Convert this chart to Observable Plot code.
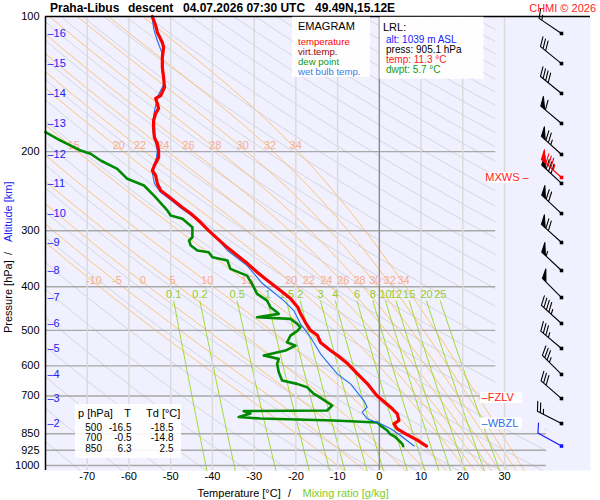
<!DOCTYPE html>
<html><head><meta charset="utf-8">
<script src="https://cdn.jsdelivr.net/npm/d3@7"></script>
<script src="https://cdn.jsdelivr.net/npm/@observablehq/plot@0.6"></script>
<style>body{margin:0;background:#fff;} #chart{width:600px;height:500px;position:relative;}</style>
</head><body><div id="chart"></div>
<script>
// ---------- data ----------
const pressureTicks = [100, 200, 300, 400, 500, 600, 700, 850, 925, 1000];
const pressureLines = [200, 300, 400, 500, 600, 700, 850, 925, 1000];
const tempTicks = [-70, -60, -50, -40, -30, -20, -10, 0, 10, 20, 30];
const isotherms = [-70, -60, -50, -40, -30, -20, -10, 0, 10, 20, 30];

const altKm = [16, 15, 14, 13, 12, 11, 10, 9, 8, 7, 6, 5, 4, 3, 2];
const altP = [109.1, 127.3, 148.4, 173.1, 202.9, 235.4, 274.7, 318.7, 367.9, 422.6, 482.8, 548.8, 627, 709.4, 806.4];

const tempP = [100, 104.7, 108.6, 114.3, 117.2, 123.4, 129.9, 136.7, 143.9, 150.0, 152.2, 156.2, 160.3, 164.4, 170.4, 176.7, 186.0, 191.8, 198.8, 206.1, 214.7, 220.3, 226.0, 235.5, 244.1, 250.5, 257.0, 266.4, 274.7, 287.7, 299.8, 312.3, 327.1, 340.8, 355.1, 371.8, 387.4, 407.8, 424.8, 444.9, 458.8, 480.5, 500, 513.6, 532.4, 554.6, 569.0, 592.8, 624.0, 656.9, 691.4, 700, 741.7, 767.3, 794, 808, 829, 850, 878, 905.1];
const tempT = [-54.4, -53.6, -53.2, -52.0, -51.7, -52.0, -52.0, -51.7, -51.5, -52.4, -53.6, -53.2, -52.9, -53.6, -54.1, -54.1, -53.9, -53.2, -52.9, -52.9, -53.9, -54.4, -53.6, -53.2, -52.4, -50.8, -49.3, -47.2, -45.2, -42.8, -40.9, -38.8, -36.4, -34.0, -31.6, -29.2, -26.8, -23.7, -21.3, -19.5, -18.9, -17.7, -16.5, -14.8, -14.1, -11.7, -10.0, -7.6, -5.3, -2.9, -1.0, -0.5, 2.7, 4.3, 4.7, 3.5, 4.3, 6.3, 9.1, 11.3];

const dewP = [181.0, 188.9, 192.1, 198.8, 202.2, 209.3, 218.4, 229.9, 237.9, 250.5, 270.4, 277.5, 282.2, 294.6, 310.2, 315.5, 323.6, 332.0, 334.9, 343.7, 349.6, 364.8, 377.6, 394.0, 414.8, 429.3, 444.2, 455.7, 459.5, 467.5, 471.4, 483.6, 492.1, 500, 513.6, 531.6, 540.7, 554.6, 569.0, 578.8, 593.8, 619.9, 646.9, 658.0, 669.6, 692.5, 700, 735.3, 754.3, 756.2, 766.0, 779.9, 786.0, 794.0, 802.3, 814.9, 835.8, 850, 865.0, 894.8, 905.1];
const dewT = [-80, -76.4, -74.8, -71.6, -69.2, -66.8, -62.8, -60.4, -56.4, -54.0, -50.8, -50.0, -47.2, -44.8, -44.8, -45.6, -45.2, -43.6, -40.9, -40.0, -36.4, -35.7, -31.7, -30.5, -29.3, -26.9, -26.1, -24.5, -24.1, -29.3, -21.3, -19.7, -18.9, -19.5, -21.3, -22.1, -20.1, -22.5, -27.7, -24.1, -24.5, -24.1, -23.3, -19.7, -17.3, -15.7, -14.8, -11.3, -12.5, -32.5, -30.9, -33.7, -28.5, -10.9, -0.5, 0.3, 1.9, 2.5, 3.9, 5.5, 5.7];

const wbP = [100, 107.4, 113.1, 121.1, 129.7, 141.2, 151.3, 164.6, 176.4, 185.8, 198.8, 206.1, 220.3, 235.5, 246.5, 257.0, 267.7, 280.3, 295.1, 312.8, 332.0, 358.8, 393.3, 429.3, 451.7, 483.6, 518.1, 563.9, 625.0, 658.0, 716.8, 741.7, 760.9, 787.2, 807.6, 828.6, 857.5, 905.1];
const wbT = [-54.5, -54.0, -53.2, -52.0, -52.2, -51.6, -53.2, -54.0, -54.4, -54.0, -53.2, -53.4, -54.5, -53.9, -52.4, -49.8, -47.4, -44.3, -41.6, -38.8, -36.4, -31.7, -28.0, -22.9, -20.5, -18.9, -16.5, -14.1, -10.1, -6.9, -3.7, -2.9, -4.1, -2.9, 0.3, 2.7, 5.1, 8.3];

const windP = [109.1, 127.3, 148.4, 173.1, 202.9, 235.4, 274.7, 318.7, 367.9, 422.6, 482.8, 548.8, 627, 709.4, 806.4];
const windDir = [304, 309, 309, 310, 312, 313, 313, 312, 313, 315, 312, 310, 315, 311, 297];
const windSpd = [15, 30, 40, 60, 75, 80, 70, 70, 55, 50, 45, 35, 35, 30, 25];
const maxWind = {p: 228.3, dir: 312, spd: 85};
const sfcWind = {p: 905.1, dir: 299, spd: 10};

const dryThetas = d3.range(190, 611, 10);                 // K
const moistThetaW = [-10, -5, 0, 5, 10, 15, 20, 22, 24, 26, 28, 30, 32, 34];
const moistLabelsHigh = [15, 20, 22, 24, 26, 28, 30, 32, 34];
const moistLabelsLow = [-10, -5, 0, 5, 10, 15, 20, 22, 24, 26, 28, 30, 32, 34];
const mixRatios = [0.1, 0.2, 0.5, 1, 1.5, 2, 3, 4, 6, 8, 10, 12, 15, 20, 25];
const mixLabels = ["0.1", "0.2", "0.5", "1", "1.5", "2", "3", "4", "6", "8", "10", "12", "15", "20", "25"];

const levels = [{p: 705.8, text: "–FZLV", color: "#ff2020"}, {p: 804.4, text: "–WBZL", color: "#2f6cf0"}];
const mxwsLevel = 228.3;
const tableRows = [["500", "-16.5", "-18.5"], ["700", "-0.5", "-14.8"], ["850", "6.3", "2.5"]];

// ---------- thermodynamics for the diagram background ----------
const Rd = 287.04, Cp = 1005.7, Lv = 2.501e6, EPS = 0.622;
const es = Tc => 6.112 * Math.exp(17.67 * Tc / (Tc + 243.5));
function dTdp(T, p) {
  const e = es(T - 273.15), rs = EPS * e / (p - e);
  return ((Rd * T + Lv * rs) / p) / (Cp + (Lv * Lv * rs * EPS) / (Rd * T * T));
}
function rk4(T, p, h) {
  const k1 = dTdp(T, p), k2 = dTdp(T + h * k1 / 2, p + h / 2), k3 = dTdp(T + h * k2 / 2, p + h / 2), k4 = dTdp(T + h * k3, p + h);
  return T + h * (k1 + 2 * k2 + 2 * k3 + k4) / 6;
}
const PTOP = 100, PBOT = 1026;
function moistLine(thw) {
  let T = thw + 273.15, p = 1000; const up = [{p, T: thw}];
  let i = 0;
  while (p > PTOP) { const h = Math.max(-2, PTOP - p); T = rk4(T, p, h); p += h; if (++i % 4 === 0 || p <= PTOP) up.push({p, T: T - 273.15}); }
  T = thw + 273.15; p = 1000; const down = [];
  while (p < PBOT) { const h = Math.min(2, PBOT - p); T = rk4(T, p, h); p += h; down.push({p, T: T - 273.15}); }
  return up.reverse().concat(down);
}
function dryLine(th) {
  return d3.range(0, 101).map(i => { const p = PTOP * Math.pow(PBOT / PTOP, i / 100); return {p, T: th * Math.pow(p / 1000, 0.2857) - 273.15}; });
}
function mixLine(w) {
  return d3.range(0, 41).map(i => { const p = 430 * Math.pow(PBOT / 430, i / 40); const e = w * p / (622 + w); const a = Math.log(e / 6.112); return {p, T: 243.5 * a / (17.67 - a)}; });
}
function clipT(pts, lo, hi) {
  const segs = []; let cur = [];
  const ins = q => q.T >= lo && q.T <= hi;
  for (let i = 0; i < pts.length; i++) {
    const a = pts[i], ai = ins(a);
    if (i > 0) {
      const b = pts[i - 1], bi = ins(b);
      if (ai !== bi) {
        const edge = ai ? (b.T < lo ? lo : hi) : (a.T < lo ? lo : hi);
        const t = (edge - b.T) / (a.T - b.T);
        cur.push({T: edge, p: Math.exp(Math.log(b.p) + t * (Math.log(a.p) - Math.log(b.p)))});
        if (!ai) { segs.push(cur); cur = []; }
      }
    }
    if (ai) cur.push(a);
  }
  if (cur.length > 1) segs.push(cur);
  return segs;
}
function TatP(pts, p) {
  for (let i = 1; i < pts.length; i++) {
    const a = pts[i - 1], b = pts[i];
    if ((a.p - p) * (b.p - p) <= 0) { const t = (Math.log(p) - Math.log(a.p)) / (Math.log(b.p) - Math.log(a.p)); return a.T + t * (b.T - a.T); }
  }
  return NaN;
}
function flatten(lines) {
  const rows = []; let id = 0;
  for (const l of lines) for (const seg of clipT(l, -80, 40)) { id++; for (const q of seg) rows.push({T: q.T, p: q.p, id}); }
  return rows;
}
const moistLines = moistThetaW.map(moistLine);
const dryRows = flatten(dryThetas.map(dryLine));
const moistRows = flatten(moistLines);
const mixLinesArr = mixRatios.map(mixLine);
const mixRows = flatten(mixLinesArr);

const P_HIGH_LABEL = 193.8, P_LOW_LABEL = 387.4, P_MIX_LABEL = 416;
const moistLabelRows = [
  ...moistLabelsHigh.map(v => ({T: TatP(moistLines[moistThetaW.indexOf(v)], P_HIGH_LABEL) + 0.8, p: P_HIGH_LABEL, text: String(v)})),
  ...moistLabelsLow.map(v => ({T: TatP(moistLines[moistThetaW.indexOf(v)], P_LOW_LABEL) + 0.5, p: P_LOW_LABEL, text: String(v)}))
];
const mixLabelRows = mixRatios.map((w, i) => ({T: mixLinesArr[i][0].T, p: P_MIX_LABEL, text: mixLabels[i]}));

const tempRows = tempP.map((p, i) => ({p, T: tempT[i]}));
const dewRows = dewP.map((p, i) => ({p, T: dewT[i]}));
const wbRows = wbP.map((p, i) => ({p, T: wbT[i]}));
const altRows = altKm.map((km, i) => ({km, p: altP[i]}));
const windRows = windP.map((p, i) => ({p, dir: windDir[i], spd: windSpd[i]}));

// wind barb shape (length channel carries the speed in knots)
const barb = {
  draw(ctx, spd) {
    const L = 27, bl = 10, sp = 3.3, ax = 0.906 * bl, ay = -0.423 * bl;
    ctx.moveTo(0, 0); ctx.lineTo(0, -L);
    let s = Math.round(spd / 5) * 5, pos = -L;
    while (s >= 50) { ctx.moveTo(0, pos); ctx.lineTo(ax, pos + ay); ctx.lineTo(0, pos + 5); ctx.closePath(); pos += 6; s -= 50; }
    while (s >= 10) { ctx.moveTo(0, pos); ctx.lineTo(ax, pos + ay); pos += sp; s -= 10; }
    if (s >= 5) { if (pos === -L) pos += sp; ctx.moveTo(0, pos); ctx.lineTo(ax / 2, pos + ay / 2); }
  }
};

const FONT = "'Liberation Sans', Arial, Helvetica, sans-serif";
const BG = "#f0f0ff";

const barbMark = (data, color) => [
  Plot.vector(data, {y: "p", frameAnchor: "right", dx: -29, rotate: "dir", length: "spd", anchor: "start", shape: barb, stroke: color, fill: color, strokeWidth: 1.1}),
  Plot.dot(data, {y: "p", frameAnchor: "right", dx: -29, symbol: "square", r: 2, fill: color})
];

const svg = Plot.plot({
  width: 600, height: 500,
  marginLeft: 45, marginRight: 10, marginTop: 16, marginBottom: 30,
  style: {fontFamily: FONT, fontSize: "11px", background: "white", color: "black", overflow: "visible"},
  x: {domain: [-80, 50.6], ticks: tempTicks, tickSize: 0, tickPadding: 2, label: null, tickFormat: d => String(d)},
  y: {type: "log", domain: [100, 1026], reverse: true, ticks: pressureTicks, tickSize: 0, tickPadding: 6, label: null, tickFormat: d => String(d)},
  length: {type: "identity"},
  marks: [
    Plot.frame({fill: BG, stroke: null}),
    Plot.line(dryRows, {x: "T", y: "p", z: "id", stroke: "#d2d2d8", strokeWidth: 0.9}),
    Plot.line(moistRows, {x: "T", y: "p", z: "id", stroke: "#ffbf6a", strokeWidth: 0.9}),
    Plot.line(mixRows, {x: "T", y: "p", z: "id", stroke: "#9ad61e", strokeWidth: 0.9}),
    Plot.ruleY(pressureLines, {x1: -80, x2: 40, stroke: "#a9a9a9", strokeWidth: 1.4}),
    Plot.rect([{}], {x1: 27.9, x2: 50.6, y1: 100, y2: 830, fill: BG}),
    Plot.ruleX(isotherms, {stroke: d => d === 0 ? "#8a8a8a" : "#dadada", strokeWidth: 1.4}),
    Plot.text(moistLabelRows, {x: "T", y: "p", text: "text", fill: "#f7ad8e", fontSize: 11}),
    Plot.text(mixLabelRows, {x: "T", y: "p", text: "text", fill: "#96cc2a", fontSize: 11}),
    Plot.line(dewRows, {x: "T", y: "p", stroke: "#008a00", strokeWidth: 2.6, curve: "linear"}),
    Plot.line(wbRows, {x: "T", y: "p", stroke: "#1f6cf0", strokeWidth: 1.1}),
    Plot.line(tempRows, {x: "T", y: "p", stroke: "#ff0000", strokeWidth: 3.2}),
    Plot.text(altRows, {y: "p", text: d => "–" + d.km, frameAnchor: "left", dx: 2, textAnchor: "start", fill: "#2222ee", fontSize: 11}),
    Plot.ruleY(levels, {y: "p", x1: 24.25, x2: 34.3, stroke: "white", strokeWidth: 11}),
    Plot.text(levels, {y: "p", x: 24.5, text: "text", fill: "color", textAnchor: "start", fontSize: 11}),
    Plot.ruleY([mxwsLevel], {x1: 25.9, x2: 33.6, stroke: "white", strokeWidth: 11}),
    Plot.text([mxwsLevel], {y: d => d, x: 35.8, text: () => "MXWS –", fill: "#ff2020", textAnchor: "end", fontSize: 11}),
    ...barbMark(windRows, "black"),
    ...barbMark([maxWind], "#ff0000"),
    ...barbMark([sfcWind], "#1010ff"),
    Plot.ruleY([100], {stroke: "black", strokeWidth: 1.5}),
    Plot.ruleX([-80], {stroke: "black", strokeWidth: 1.5})
  ]
});

const s = d3.select(svg);
function txt(x, y, str, o = {}) {
  const t = s.append("text").attr("x", x).attr("y", y).text(str)
    .attr("font-family", FONT).attr("font-size", o.size || 11).attr("fill", o.fill || "black")
    .attr("text-anchor", o.anchor || "start");
  if (o.weight) t.attr("font-weight", o.weight);
  if (o.rotate) t.attr("transform", `rotate(-90 ${x} ${y})`);
  return t;
}
// title
txt(50, 12, "Praha-Libus", {weight: "bold", size: 12});
txt(128, 12, "descent", {weight: "bold", size: 12});
txt(183, 12, "04.07.2026 07:30 UTC", {weight: "bold", size: 12});
txt(315, 12, "49.49N,15.12E", {weight: "bold", size: 12});
txt(596, 12, "CHMI © 2026", {fill: "#ff2020", anchor: "end"});
// legend box
s.append("rect").attr("x", 292).attr("y", 16.8).attr("width", 78).attr("height", 60).attr("fill", "white").attr("fill-opacity", 0.92);
txt(298, 30, "EMAGRAM");
txt(298, 45, "temperature", {size: 9.6, fill: "#ff0000"});
txt(298, 55, "virt.temp.", {size: 9.6, fill: "#a00000"});
txt(298, 65, "dew point", {size: 9.6, fill: "#119911"});
txt(298, 75, "wet bulb temp.", {size: 9.6, fill: "#3a7de8"});
// LRL box
s.append("rect").attr("x", 379.5).attr("y", 16.8).attr("width", 104).attr("height", 62).attr("fill", "white").attr("fill-opacity", 0.92);
txt(383, 30.5, "LRL:");
txt(386, 43, "alt: 1039 m ASL", {size: 10, fill: "#2020ff"});
txt(386, 53, "press: 905.1 hPa", {size: 10});
txt(386, 63, "temp: 11.3 °C", {size: 10, fill: "#ff2020"});
txt(386, 73, "dwpt: 5.7 °C", {size: 10, fill: "#119911"});
// table
s.append("rect").attr("x", 75).attr("y", 404).attr("width", 106).attr("height", 54).attr("fill", "white").attr("fill-opacity", 0.9);
txt(78, 416.5, "p [hPa]");
txt(127.5, 416.5, "T", {anchor: "middle"});
txt(146, 416.5, "Td [°C]");
tableRows.forEach((r, i) => {
  const y = 430.5 + i * 10.6;
  txt(102, y, r[0], {anchor: "end", size: 10});
  txt(131.5, y, r[1], {anchor: "end", size: 10});
  txt(173.5, y, r[2], {anchor: "end", size: 10});
});
// axis titles
txt(197.5, 497, "Temperature [°C]");
txt(288, 497, "/");
txt(302.5, 497, "Mixing ratio [g/kg]", {fill: "#7fcc1a"});
txt(12, 333, "Pressure [hPa]", {rotate: true});
txt(12, 255, "/", {rotate: true});
txt(12, 242, "Altitude [km]", {rotate: true, fill: "#2222ee"});

document.getElementById("chart").appendChild(svg);
</script>
</body></html>
